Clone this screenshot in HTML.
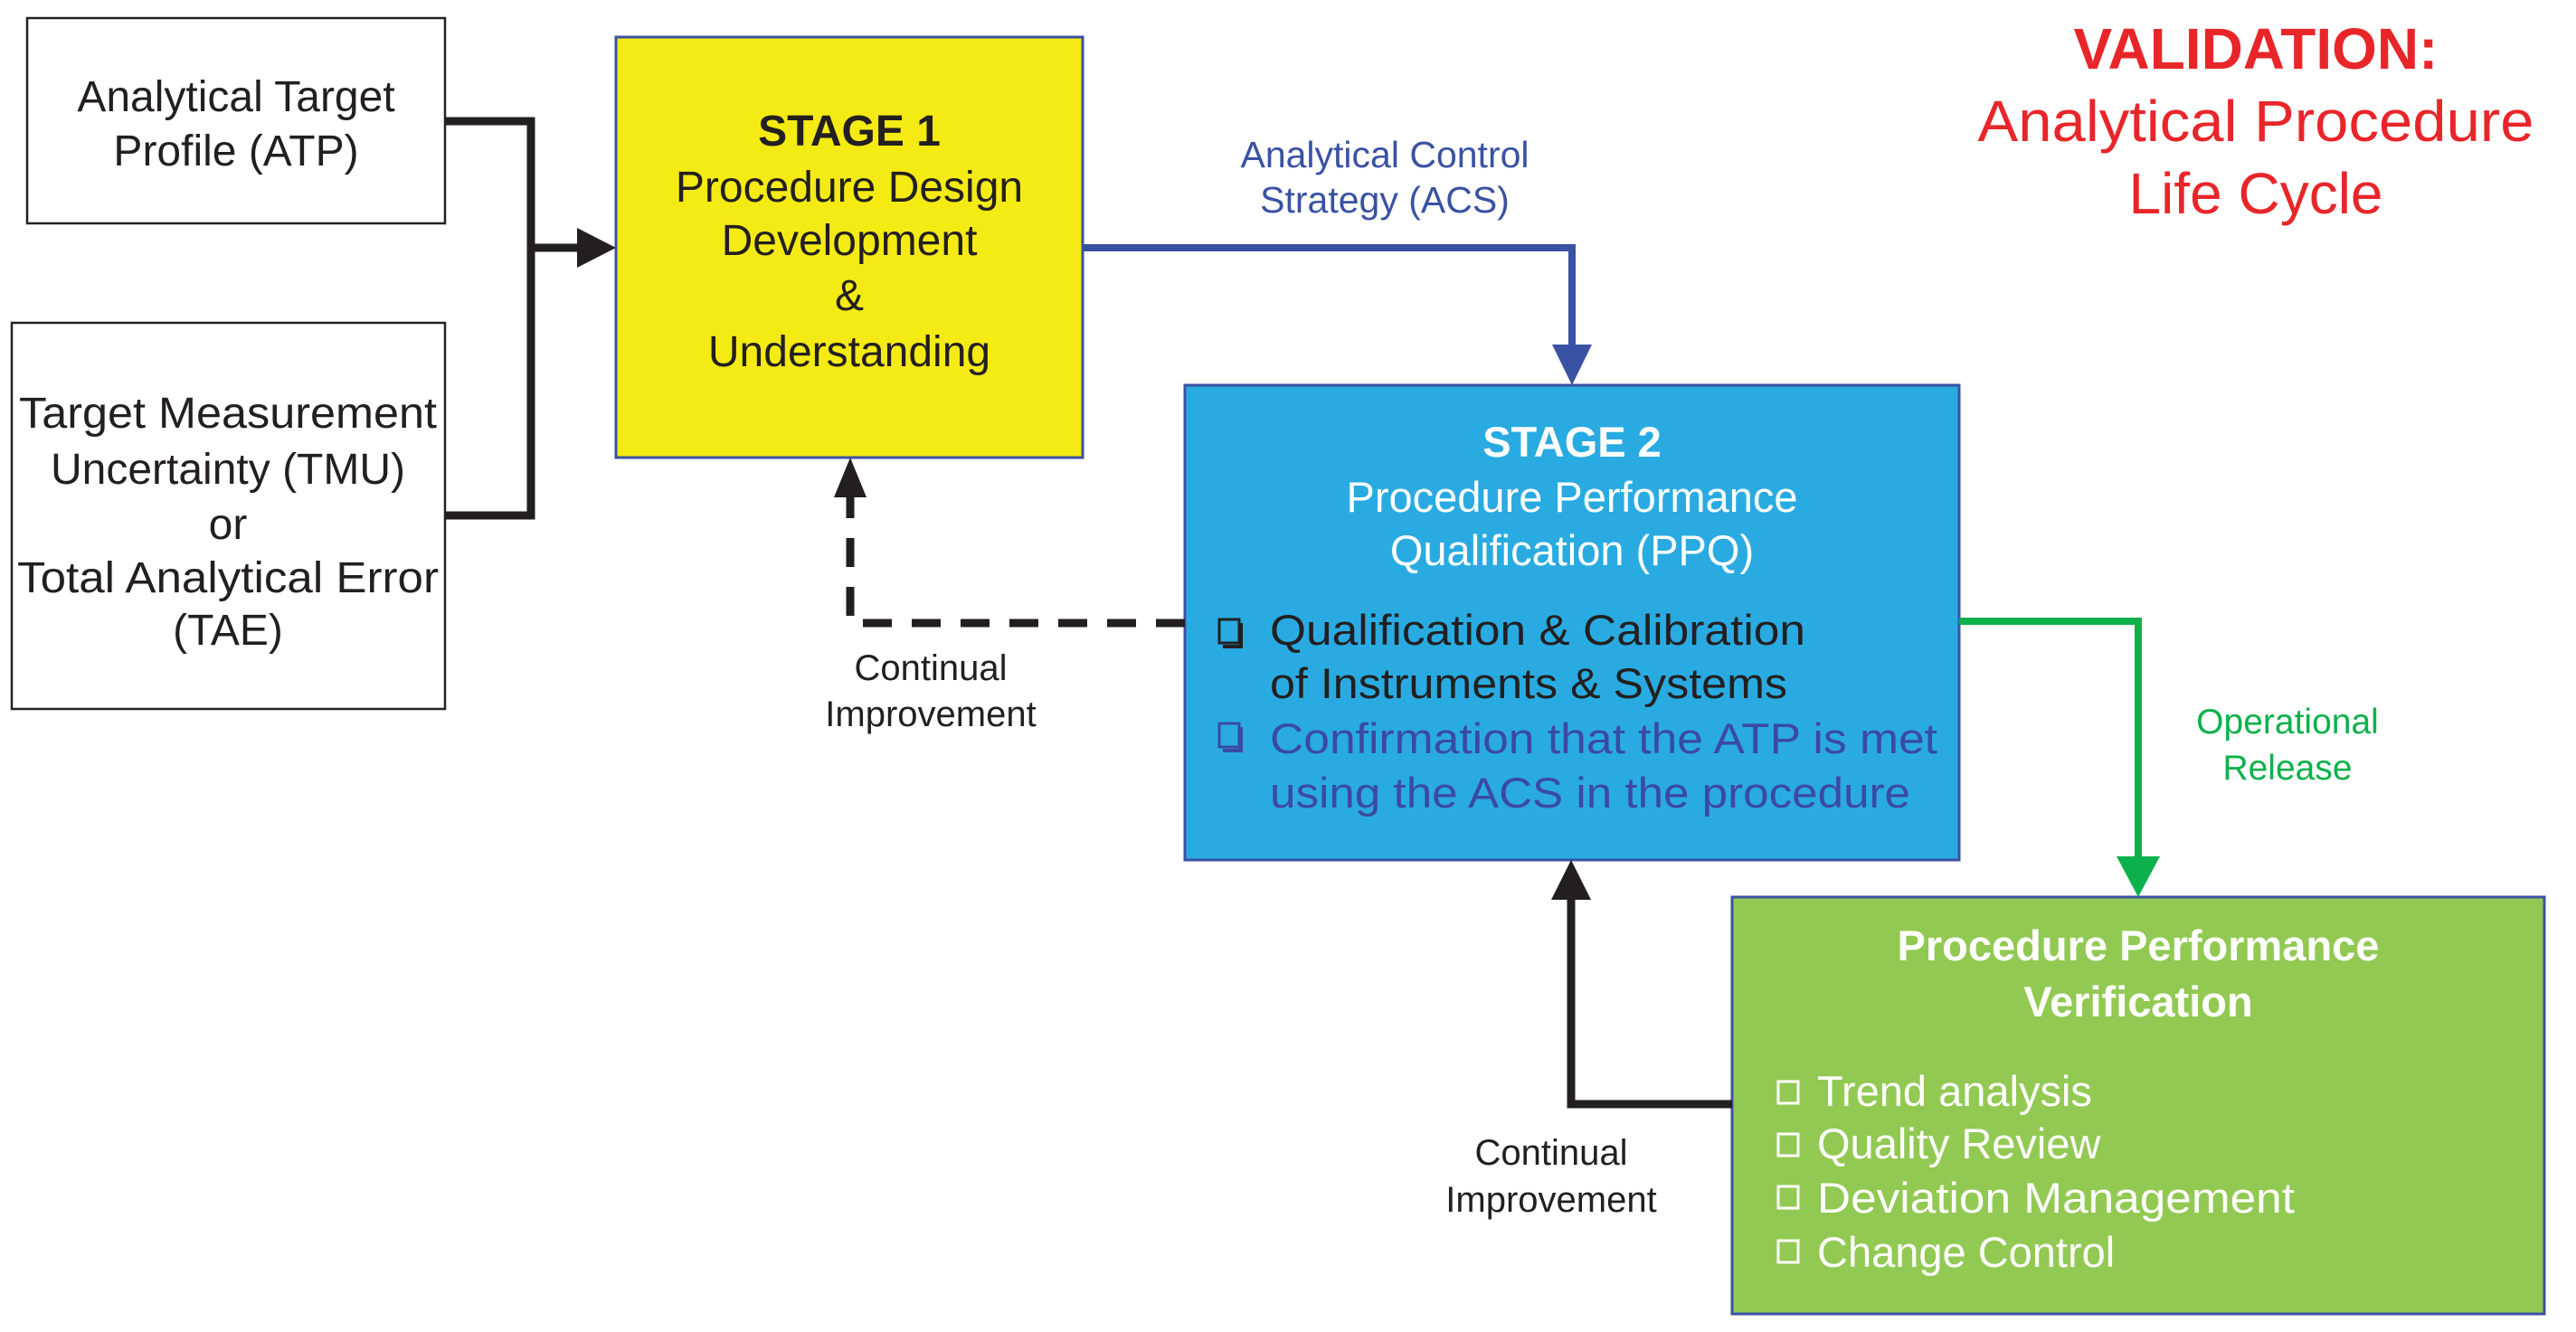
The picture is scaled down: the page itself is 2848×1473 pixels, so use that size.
<!DOCTYPE html>
<html><head><meta charset="utf-8"><style>html,body{margin:0;padding:0;background:#fff}svg{display:block}</style></head>
<body>
<svg width="2848" height="1473" viewBox="0 0 2848 1473" xmlns="http://www.w3.org/2000/svg" font-family="Liberation Sans, sans-serif">
<rect width="2848" height="1473" fill="#fff"/>
<!-- boxes -->
<rect x="30" y="20" width="462" height="227" fill="#fff" stroke="#222" stroke-width="2.5"/>
<rect x="13" y="357" width="479" height="427" fill="#fff" stroke="#222" stroke-width="2.5"/>
<rect x="681" y="41" width="516" height="465" fill="#f5eb14" stroke="#3a52a3" stroke-width="3"/>
<rect x="1310" y="426" width="856" height="525" fill="#29abe2" stroke="#3a52a3" stroke-width="3"/>
<rect x="1915" y="992" width="898" height="461" fill="#92c953" stroke="#3a52a3" stroke-width="3"/>
<!-- black connector -->
<polyline points="492,134 587,134 587,570 492,570" fill="none" stroke="#231f20" stroke-width="9"/>
<line x1="587" y1="274" x2="640" y2="274" stroke="#231f20" stroke-width="9"/>
<polygon points="638,252 681,274 638,296" fill="#231f20"/>
<!-- blue connector -->
<polyline points="1197,274 1738,274 1738,384" fill="none" stroke="#3a52a3" stroke-width="8"/>
<polygon points="1716,381 1760,381 1738,426" fill="#3a52a3"/>
<!-- dashed -->
<polyline points="1310,689 940,689 940,546" fill="none" stroke="#231f20" stroke-width="9" stroke-dasharray="32,22"/>
<polygon points="922,550 958,550 940,506" fill="#231f20"/>
<!-- green -->
<polyline points="2166,687 2364,687 2364,950" fill="none" stroke="#0db14b" stroke-width="8"/>
<polygon points="2340,947 2388,947 2364,992" fill="#0db14b"/>
<!-- bottom feedback -->
<polyline points="1915,1221 1737,1221 1737,993" fill="none" stroke="#231f20" stroke-width="9"/>
<polygon points="1715,995 1759,995 1737,951" fill="#231f20"/>

<g font-size="48" fill="#231f20" text-anchor="middle">
<text x="261" y="123">Analytical Target</text>
<text x="261" y="183">Profile (ATP)</text>
<text x="252" y="473" textLength="462" lengthAdjust="spacingAndGlyphs">Target Measurement</text>
<text x="252" y="535">Uncertainty (TMU)</text>
<text x="252" y="596">or</text>
<text x="252" y="655" textLength="466" lengthAdjust="spacingAndGlyphs">Total Analytical Error</text>
<text x="252" y="713">(TAE)</text>
<text x="939" y="161" font-weight="bold">STAGE 1</text>
<text x="939" y="223">Procedure Design</text>
<text x="939" y="282">Development</text>
<text x="939" y="343">&amp;</text>
<text x="939" y="405">Understanding</text>
</g>
<g font-size="40" fill="#231f20" text-anchor="middle">
<text x="1029" y="752">Continual</text>
<text x="1029" y="803">Improvement</text>
<text x="1715" y="1288">Continual</text>
<text x="1715" y="1340">Improvement</text>
</g>
<g font-size="41" fill="#3a52a3" text-anchor="middle">
<text x="1531" y="185">Analytical Control</text>
<text x="1531" y="235">Strategy (ACS)</text>
</g>
<g font-size="39" fill="#0db14b" text-anchor="middle">
<text x="2529" y="811">Operational</text>
<text x="2529" y="862">Release</text>
</g>
<g fill="#e8262a" text-anchor="middle" font-size="64">
<text x="2494" y="76" font-weight="bold">VALIDATION:</text>
<text x="2494" y="156" textLength="615" lengthAdjust="spacingAndGlyphs">Analytical Procedure</text>
<text x="2494" y="236">Life Cycle</text>
</g>
<g text-anchor="middle" fill="#fff" font-size="47">
<text x="1738" y="505" font-weight="bold">STAGE 2</text>
<text x="1738" y="566">Procedure Performance</text>
<text x="1738" y="625">Qualification (PPQ)</text>
<text x="2364" y="1062" font-weight="bold">Procedure Performance</text>
<text x="2364" y="1124" font-weight="bold">Verification</text>
</g>
<g font-size="47">
<text x="1404" y="713" fill="#231f20" textLength="592" lengthAdjust="spacingAndGlyphs">Qualification &amp; Calibration</text>
<text x="1404" y="772" fill="#231f20" textLength="572" lengthAdjust="spacingAndGlyphs">of Instruments &amp; Systems</text>
<text x="1404" y="833" fill="#3b4aa0" textLength="738" lengthAdjust="spacingAndGlyphs">Confirmation that the ATP is met</text>
<text x="1404" y="893" fill="#3b4aa0" textLength="708" lengthAdjust="spacingAndGlyphs">using the ACS in the procedure</text>
<text x="2009" y="1223" fill="#fff">Trend analysis</text>
<text x="2009" y="1281" fill="#fff">Quality Review</text>
<text x="2009" y="1341" fill="#fff" textLength="528" lengthAdjust="spacingAndGlyphs">Deviation Management</text>
<text x="2009" y="1401" fill="#fff">Change Control</text>
</g>
<!-- checkboxes -->
<g fill="none" stroke-width="3">
<rect x="1348" y="685" width="22" height="26" stroke="#231f20"/><path d="M1372,689 v26 h-20" stroke="#231f20" stroke-width="4"/>
<rect x="1348" y="800" width="22" height="26" stroke="#3b4aa0"/><path d="M1372,804 v26 h-20" stroke="#3b4aa0" stroke-width="4"/>
<rect x="1966" y="1196" width="22" height="24" stroke="#fff"/>
<rect x="1966" y="1254" width="22" height="24" stroke="#fff"/>
<rect x="1966" y="1312" width="22" height="24" stroke="#fff"/>
<rect x="1966" y="1372" width="22" height="24" stroke="#fff"/>
</g>
</svg>
</body></html>
